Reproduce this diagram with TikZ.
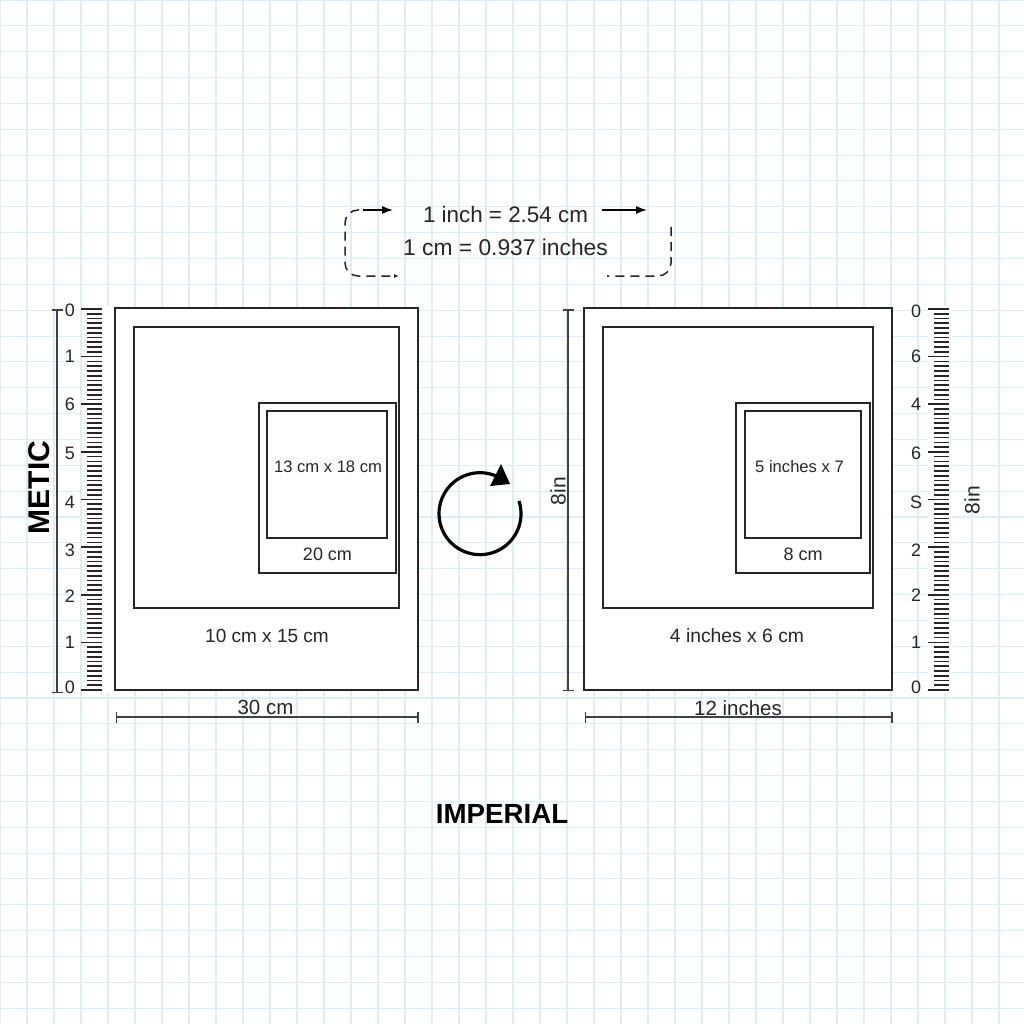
\documentclass[tikz,border=0pt]{standalone}
\usepackage{fontspec}
\setmainfont{Liberation Sans}
\usetikzlibrary{arrows.meta}
\usetikzlibrary{positioning}
\definecolor{gridblue}{RGB}{222,238,247}
\tikzset{
% Define standard arrow tip
>={Latex[length=11pt,width=8pt]},
gridline/.style={draw=gridblue, line width=1.1pt},
frame/.style={rectangle, draw=black!85, fill=white, line width=1.3pt, inner sep=0, outer sep=0},
inset/.style={frame, line width=1.1pt},
dimline/.style={draw=black!75, line width=1.5pt},
tick/.style={draw=black!85, line width=1.7pt},
numlabel/.style={inner sep=0, font=\fontsize{18}{20}\selectfont, text=black!85},
sizelabel/.style={inner sep=0, text=black!85},
flowdash/.style={draw=black!85, line width=1.5pt, dash pattern=on 9pt off 6pt, rounded corners=13pt},
flowarrow/.style={draw=black, line width=1.4pt, ->}
}
\begin{document}
\begin{tikzpicture}[x=1pt, y=-1pt]
  \useasboundingbox (0,0) rectangle (1024,1024);
  \fill[white] (0,0) rectangle (1024,1024);

  % paper grid
  \foreach \x in {0,27,...,1024}
    \draw[gridline] (\x,0) -- (\x,1024);
  \foreach \k in {0,...,39}
    \draw[gridline] (0,{25.85*\k}) -- (1024,{25.85*\k});

  % conversion text
  \node[sizelabel, font=\fontsize{22.4}{26}\selectfont] (inchtext) at (505.5,214) {1 inch = 2.54 cm};
  \node[sizelabel, font=\fontsize{22.8}{26}\selectfont] (cmtext) at (505.5,247) {1 cm = 0.937 inches};
  \coordinate (arrowA) at (363,210);
  \coordinate (arrowB) at (393,210);
  \coordinate (arrowC) at (602,210);
  \coordinate (arrowD) at (647,210);
  \draw[flowarrow] (arrowA) -- (arrowB);
  \draw[flowarrow] (arrowC) -- (arrowD);
  \coordinate (dashA) at (359,210);
  \coordinate (dashB) at (345,210);
  \coordinate (dashC) at (345,276);
  \coordinate (dashD) at (399,276);
  \coordinate (dashE) at (671,227);
  \coordinate (dashF) at (671,276);
  \coordinate (dashG) at (607,276);
  \draw[flowdash, -{Latex[length=5pt,width=4pt]}] (dashA) -- (dashB) -- (dashC) -- (dashD);
  \draw[flowdash] (dashE) -- (dashF) -- (dashG);

  % metric side
  \fill[white] (82,306) rectangle (115,693);
  \node[frame, minimum width=303pt, minimum height=382pt] (metricframe) at (266.5,499) {};
  \node[inset, minimum width=265pt, minimum height=281pt] (metricmat) at (266.5,467.5) {};
  \node[inset, minimum width=137pt, minimum height=170pt] (metricprint) at (327.5,488) {};
  \node[inset, minimum width=120pt, minimum height=127pt] (metricphoto) at (327,474.5) {};
  \node[sizelabel, font=\fontsize{16.6}{18}\selectfont] (metricphototext) at (328,467) {13 cm x 18 cm};
  \node[sizelabel, font=\fontsize{18}{20}\selectfont] (metricprinttext) at (327.5,554) {20 cm};
  \node[sizelabel, font=\fontsize{19}{21}\selectfont] (metricmattext) at (267,636) {10 cm x 15 cm};

  \foreach \i in {0,...,80}
    \draw[tick] (87,{309+4.7625*\i}) -- (102,{309+4.7625*\i});
  \foreach \i/\lab/\ly in {0/0/310, 1/1/356, 2/6/404, 3/5/453, 4/4/502, 5/3/550, 6/2/596, 7/1/642, 8/0/687} {
    \node[numlabel] (metricnum\i) at (70,\ly) {\lab};
    \draw[tick] (81,{309+47.625*\i}) -- (102,{309+47.625*\i});
  }
  \coordinate (metricaxisA) at (57,309);
  \coordinate (metricaxisB) at (57,693);
  \draw[dimline, {Bar[width=11pt,length=0pt]}-{Bar[width=11pt,length=0pt]}] (metricaxisA) -- (metricaxisB);
  \coordinate (metricwidthA) at (115.5,717);
  \coordinate (metricwidthB) at (418.5,717);
  \draw[dimline, {Bar[width=11pt,length=0pt]}-{Bar[width=11pt,length=0pt]}] (metricwidthA) -- (metricwidthB);
  \node[sizelabel, font=\fontsize{20.5}{22}\selectfont] (metricwidthtext) at (265.5,707) {30 cm};
  \node[inner sep=0, rotate=90, font=\bfseries\fontsize{30}{32}\selectfont] (metrictitle) at (39,487.5) {METIC};

  % rotation arrow
  \draw[line width=3.2pt, black] (519,501) arc[start angle=18, end angle=-300, radius=41pt];
  \fill[black] (501,464) -- (510,484) -- (490,486) -- cycle;

  % imperial side
  \fill[white] (928,306) rectangle (952,693);
  \node[frame, minimum width=308pt, minimum height=382pt] (impframe) at (738,499) {};
  \node[inset, minimum width=270pt, minimum height=281pt] (impmat) at (738,467.5) {};
  \node[inset, minimum width=134pt, minimum height=170pt] (impprint) at (803,488) {};
  \node[inset, minimum width=116pt, minimum height=127pt] (impphoto) at (803,474.5) {};
  \node[sizelabel, font=\fontsize{16.6}{18}\selectfont] (impphototext) at (799.5,467) {5 inches x 7};
  \node[sizelabel, font=\fontsize{18}{20}\selectfont] (impprinttext) at (803,554) {8 cm};
  \node[sizelabel, font=\fontsize{19.3}{21}\selectfont] (impmattext) at (737,636) {4 inches x 6 cm};

  \foreach \i in {0,...,80}
    \draw[tick] (934,{309+4.7625*\i}) -- (949,{309+4.7625*\i});
  \foreach \i/\lab/\ly in {0/0/311, 1/6/356, 2/4/404, 3/6/453, 4/S/502, 5/2/550, 6/2/595, 7/1/642, 8/0/687} {
    \node[numlabel] (impnum\i) at (916,\ly) {\lab};
    \draw[tick] (928,{309+47.625*\i}) -- (949,{309+47.625*\i});
  }
  \coordinate (impaxisA) at (568,309);
  \coordinate (impaxisB) at (568,691);
  \draw[dimline, {Bar[width=11pt,length=0pt]}-{Bar[width=11pt,length=0pt]}] (impaxisA) -- (impaxisB);
  \coordinate (impwidthA) at (584.5,717);
  \coordinate (impwidthB) at (892.5,717);
  \draw[dimline, {Bar[width=11pt,length=0pt]}-{Bar[width=11pt,length=0pt]}] (impwidthA) -- (impwidthB);
  \node[sizelabel, font=\fontsize{20.5}{22}\selectfont] (impwidthtext) at (738,708) {12 inches};
  \node[sizelabel, rotate=90, font=\fontsize{21}{22}\selectfont] (impheighttext) at (558,491) {8in};
  \node[sizelabel, rotate=90, font=\fontsize{21}{22}\selectfont] (rulerheighttext) at (972,500) {8in};
  \node[inner sep=0, font=\bfseries\fontsize{27.7}{30}\selectfont] (imptitle) at (502,814) {IMPERIAL};
\end{tikzpicture}
\end{document}
